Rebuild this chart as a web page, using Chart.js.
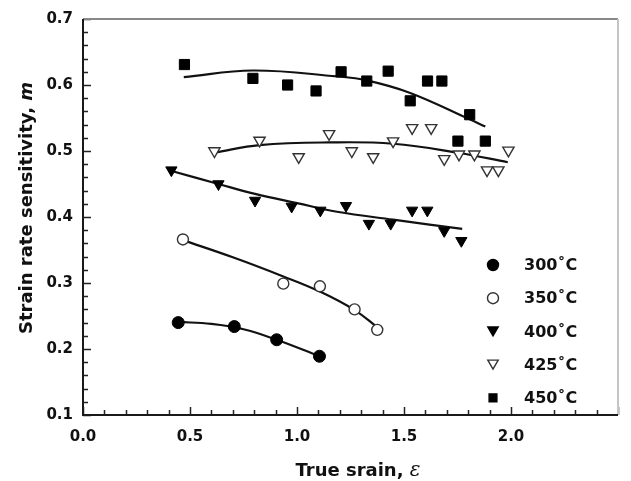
<!DOCTYPE html>
<html>
<head>
<meta charset="utf-8">
<script src="https://cdn.jsdelivr.net/npm/chart.js@4/dist/chart.umd.min.js"></script>
<style>
  body { margin: 0; background: #fff; }
  #wrap { width: 631px; height: 481px; }
</style>
</head>
<body>
<div id="wrap"><canvas id="mChart" width="631" height="481"></canvas></div>
<script>
// measured points, true strain vs m
const strain300 = [0.445, 0.707, 0.905, 1.105];
const m300 = [0.240, 0.234, 0.214, 0.189];
const strain350 = [0.467, 0.936, 1.107, 1.269, 1.375];
const m350 = [0.366, 0.299, 0.295, 0.260, 0.229];
const strain400 = [0.413, 0.633, 0.804, 0.975, 1.109, 1.229, 1.336, 1.438, 1.538, 1.609, 1.688, 1.768];
const m400 = [0.471, 0.450, 0.425, 0.416, 0.410, 0.417, 0.390, 0.390, 0.410, 0.410, 0.379, 0.364];
const strain425 = [0.614, 0.825, 1.008, 1.150, 1.256, 1.356, 1.449, 1.538, 1.627, 1.688, 1.757, 1.829, 1.888, 1.941, 1.988];
const m425 = [0.500, 0.516, 0.491, 0.526, 0.500, 0.491, 0.515, 0.535, 0.535, 0.488, 0.495, 0.495, 0.471, 0.471, 0.501];
const strain450 = [0.474, 0.794, 0.956, 1.089, 1.206, 1.326, 1.426, 1.529, 1.610, 1.677, 1.752, 1.807, 1.880];
const m450 = [0.631, 0.610, 0.600, 0.591, 0.620, 0.606, 0.621, 0.576, 0.606, 0.606, 0.515, 0.555, 0.515];

// fitted curves
const fit300x = [0.445, 0.600, 0.750, 0.905, 1.105];
const fit300y = [0.241, 0.238, 0.230, 0.214, 0.189];
const fit350x = [0.467, 0.700, 0.936, 1.107, 1.269, 1.375];
const fit350y = [0.365, 0.339, 0.310, 0.287, 0.259, 0.233];
const fit400x = [0.410, 0.633, 0.804, 1.000, 1.187, 1.449, 1.772];
const fit400y = [0.470, 0.450, 0.435, 0.421, 0.408, 0.396, 0.382];
const fit425x = [0.620, 0.825, 1.147, 1.449, 1.757, 1.985];
const fit425y = [0.498, 0.509, 0.513, 0.511, 0.497, 0.483];
const fit450x = [0.471, 0.794, 1.187, 1.326, 1.529, 1.807, 1.880];
const fit450y = [0.612, 0.622, 0.613, 0.607, 0.588, 0.548, 0.537];

const tempLabels = ['300˚C', '350˚C', '400˚C', '425˚C', '450˚C'];
const markerKinds = ['circle', 'circle', 'tri', 'tri', 'rect'];
const markerFilled = [true, false, true, false, true];

const pts = (xs, ys) => xs.map((v, i) => ({ x: v, y: ys[i] }));

function markerSet(label, xs, ys, style, filled, r, rot) {
    return {
        label: label,
        data: pts(xs, ys),
        showLine: false,
        pointStyle: style,
        rotation: rot || 0,
        pointRadius: r,
        pointHoverRadius: r,
        pointBackgroundColor: filled ? '#000' : '#fff',
        pointBorderColor: filled ? '#000' : '#333',
        pointBorderWidth: filled ? 1 : 1.4,
    };
}

function fitSet(xs, ys) {
    return {
        label: '',
        data: pts(xs, ys),
        showLine: true,
        pointRadius: 0,
        borderColor: '#111',
        borderWidth: 2.2,
        tension: 0.4,
        fill: false,
    };
}

function drawMarker(ctx, kind, cx, cy, r, filled) {
    ctx.beginPath();
    if (kind === 'circle') {
        ctx.arc(cx, cy, r, 0, Math.PI * 2);
    } else if (kind === 'tri') {
        ctx.moveTo(cx - r * 0.866, cy - r / 2);
        ctx.lineTo(cx + r * 0.866, cy - r / 2);
        ctx.lineTo(cx, cy + r);
        ctx.closePath();
    } else {
        const s = r * 0.707;
        ctx.rect(cx - s, cy - s, 2 * s, 2 * s);
    }
    ctx.fillStyle = filled ? '#000' : '#fff';
    ctx.fill();
    ctx.lineWidth = 1.4;
    ctx.strokeStyle = filled ? '#000' : '#333';
    ctx.stroke();
}

// frame, inward ticks, axis titles and legend
const decorations = {
    id: 'decorations',
    afterDraw(chart) {
        const { ctx, chartArea: a, scales: { x, y } } = chart;
        ctx.save();

        ctx.strokeStyle = '#222';
        ctx.lineWidth = 1.5;
        x.ticks.forEach(t => {
            const px = Math.round(x.getPixelForValue(t.value)) + 0.5;
            const len = Math.round(t.value * 10) % 5 === 0 ? 8 : 5;
            ctx.beginPath(); ctx.moveTo(px, a.bottom); ctx.lineTo(px, a.bottom - len); ctx.stroke();
        });
        y.ticks.forEach(t => {
            const py = Math.round(y.getPixelForValue(t.value)) + 0.5;
            const len = Math.round(t.value * 100) % 10 === 0 ? 8 : 5;
            ctx.beginPath(); ctx.moveTo(a.left, py); ctx.lineTo(a.left + len, py); ctx.stroke();
        });

        // box
        ctx.lineWidth = 2;
        ctx.strokeStyle = '#888';
        ctx.beginPath(); ctx.moveTo(a.left, a.top); ctx.lineTo(a.right, a.top); ctx.stroke();
        ctx.strokeStyle = '#c4c4c4';
        ctx.beginPath(); ctx.moveTo(a.right, a.top); ctx.lineTo(a.right, a.bottom); ctx.stroke();
        ctx.strokeStyle = '#1a1a1a';
        ctx.beginPath(); ctx.moveTo(a.left, a.top); ctx.lineTo(a.left, a.bottom); ctx.lineTo(a.right, a.bottom); ctx.stroke();

        // titles
        ctx.fillStyle = '#111';
        ctx.textBaseline = 'alphabetic';
        ctx.textAlign = 'left';
        const f1 = 'bold 18px "DejaVu Sans"';
        const f2 = 'italic bold 18px "DejaVu Sans"';
        ctx.font = f1;
        const yt = 'Strain rate sensitivity, ';
        const w1 = ctx.measureText(yt).width;
        ctx.font = f2;
        const w2 = ctx.measureText('m').width;
        ctx.save();
        ctx.translate(32, 208);
        ctx.rotate(-Math.PI / 2);
        ctx.font = f1;
        ctx.fillText(yt, -(w1 + w2) / 2, 0);
        ctx.font = f2;
        ctx.fillText('m', -(w1 + w2) / 2 + w1, 0);
        ctx.restore();

        const xt = 'True srain, ';
        ctx.font = f1;
        const w3 = ctx.measureText(xt).width;
        const f3 = 'italic 20px "DejaVu Serif"';
        ctx.font = f3;
        const w4 = ctx.measureText('ε').width;
        const x0 = 358 - (w3 + w4) / 2;
        ctx.font = f1;
        ctx.fillText(xt, x0, 476);
        ctx.font = f3;
        ctx.fillText('ε', x0 + w3, 476);

        // legend
        tempLabels.forEach((lab, i) => {
            const cy = 265 + i * 33.2;
            const r = markerKinds[i] === 'rect' ? 5.5 : (markerKinds[i] === 'tri' ? 6 : 5.5);
            drawMarker(ctx, markerKinds[i], 493, markerKinds[i] === 'tri' ? cy - 1.5 : cy, r, markerFilled[i]);
            ctx.fillStyle = '#111';
            ctx.font = 'bold 16px "DejaVu Sans"';
            ctx.textBaseline = 'middle';
            ctx.fillText(lab, 524, cy + 1);
        });
        ctx.restore();
    }
};

new Chart(document.getElementById('mChart').getContext('2d'), {
    type: 'scatter',
    data: {
        datasets: [
            markerSet(tempLabels[0], strain300, m300, 'circle', true, 6),
            markerSet(tempLabels[1], strain350, m350, 'circle', false, 5.5),
            markerSet(tempLabels[2], strain400, m400, 'triangle', true, 6.5, 180),
            markerSet(tempLabels[3], strain425, m425, 'triangle', false, 6.5, 180),
            markerSet(tempLabels[4], strain450, m450, 'rect', true, 7.2),
            fitSet(fit300x, fit300y),
            fitSet(fit350x, fit350y),
            fitSet(fit400x, fit400y),
            fitSet(fit425x, fit425y),
            fitSet(fit450x, fit450y),
        ]
    },
    options: {
        responsive: false,
        animation: false,
        layout: { padding: { top: 11, right: 7, left: 0, bottom: 0 } },
        plugins: {
            legend: { display: false },
            tooltip: { enabled: false },
        },
        scales: {
            x: {
                type: 'linear',
                min: 0, max: 2.5,
                afterFit: s => { s.height = 66; },
                grid: { display: false, drawTicks: false },
                border: { display: false },
                ticks: {
                    stepSize: 0.1,
                    autoSkip: false,
                    maxRotation: 0,
                    padding: 13,
                    color: '#111',
                    font: { family: 'DejaVu Sans', size: 15, weight: 'bold' },
                    callback: v => (Math.round(v * 10) % 5 === 0 && v < 2.45) ? v.toFixed(1) : '',
                },
            },
            y: {
                min: 0.1, max: 0.7,
                afterFit: s => { s.width = 83; },
                grid: { display: false, drawTicks: false },
                border: { display: false },
                ticks: {
                    stepSize: 0.02,
                    autoSkip: false,
                    padding: 10,
                    color: '#111',
                    font: { family: 'DejaVu Sans', size: 15, weight: 'bold' },
                    callback: v => Math.round(v * 100) % 10 === 0 ? v.toFixed(1) : '',
                },
            },
        },
    },
    plugins: [decorations],
});
</script>
</body>
</html>
